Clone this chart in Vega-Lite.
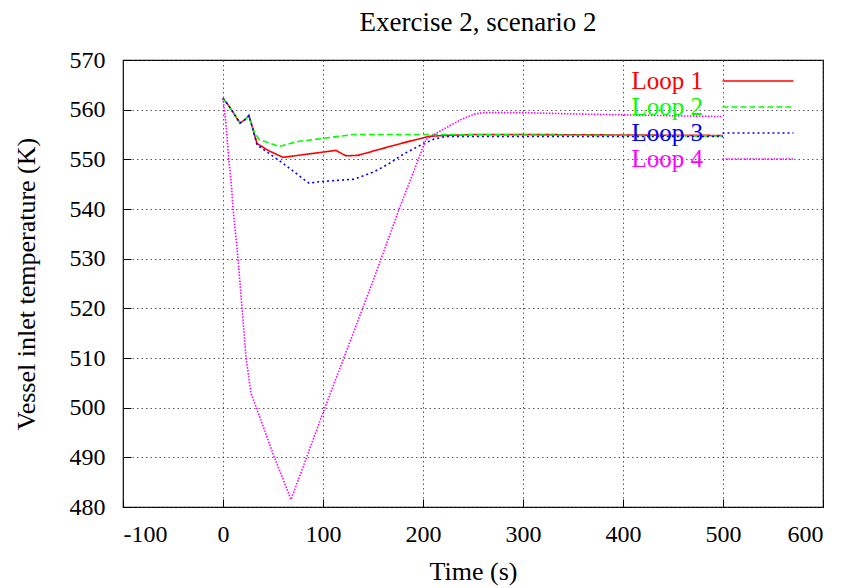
{
  "$schema": "https://vega.github.io/schema/vega-lite/v6.json",
  "width": 700,
  "height": 447,
  "autosize": "none",
  "padding": {"left": 123, "top": 60, "right": 27, "bottom": 81},
  "background": "white",
  "title": {"text": "Exercise 2, scenario 2", "font": "Liberation Serif", "fontSize": 27, "fontWeight": "normal", "color": "black", "offset": 11, "anchor": "middle", "dx": 5},
  "config": {
    "view": {"stroke": "black", "strokeWidth": 1.2},
    "axis": {
      "labelFont": "Liberation Serif", "labelFontSize": 24, "labelColor": "black",
      "titleFont": "Liberation Serif", "titleFontSize": 26, "titleFontWeight": "normal", "titleColor": "black",
      "domain": false, "tickColor": "black", "tickSize": -8, "tickWidth": 1,
      "grid": true, "gridColor": "#333", "gridDash": [1.5, 3], "gridWidth": 1, "gridOpacity": 0.8
    }
  },
  "data": {"values": [
    {"series": "Loop 1", "t": 0, "T": 562.3},
    {"series": "Loop 1", "t": 5, "T": 561},
    {"series": "Loop 1", "t": 10, "T": 559.5},
    {"series": "Loop 1", "t": 17, "T": 557.3},
    {"series": "Loop 1", "t": 22, "T": 558},
    {"series": "Loop 1", "t": 26, "T": 558.8},
    {"series": "Loop 1", "t": 30, "T": 556},
    {"series": "Loop 1", "t": 34, "T": 553.2},
    {"series": "Loop 1", "t": 45, "T": 551.8},
    {"series": "Loop 1", "t": 60, "T": 550.4},
    {"series": "Loop 1", "t": 113, "T": 551.8},
    {"series": "Loop 1", "t": 123, "T": 550.7},
    {"series": "Loop 1", "t": 135, "T": 550.8},
    {"series": "Loop 1", "t": 158, "T": 552.1},
    {"series": "Loop 1", "t": 178, "T": 553.2},
    {"series": "Loop 1", "t": 205, "T": 554.6},
    {"series": "Loop 1", "t": 220, "T": 554.8},
    {"series": "Loop 1", "t": 250, "T": 555},
    {"series": "Loop 1", "t": 300, "T": 555},
    {"series": "Loop 1", "t": 400, "T": 554.9},
    {"series": "Loop 1", "t": 500, "T": 554.8},
    {"series": "Loop 2", "t": 0, "T": 562.3},
    {"series": "Loop 2", "t": 5, "T": 561},
    {"series": "Loop 2", "t": 10, "T": 559.5},
    {"series": "Loop 2", "t": 17, "T": 557.3},
    {"series": "Loop 2", "t": 22, "T": 558},
    {"series": "Loop 2", "t": 26, "T": 558.8},
    {"series": "Loop 2", "t": 30, "T": 556},
    {"series": "Loop 2", "t": 36, "T": 554},
    {"series": "Loop 2", "t": 56, "T": 552.6},
    {"series": "Loop 2", "t": 75, "T": 553.6},
    {"series": "Loop 2", "t": 100, "T": 554.2},
    {"series": "Loop 2", "t": 130, "T": 555},
    {"series": "Loop 2", "t": 200, "T": 555},
    {"series": "Loop 2", "t": 300, "T": 554.9},
    {"series": "Loop 2", "t": 500, "T": 554.7},
    {"series": "Loop 3", "t": 0, "T": 562.3},
    {"series": "Loop 3", "t": 5, "T": 561},
    {"series": "Loop 3", "t": 10, "T": 559.5},
    {"series": "Loop 3", "t": 17, "T": 557.3},
    {"series": "Loop 3", "t": 22, "T": 558},
    {"series": "Loop 3", "t": 26, "T": 558.8},
    {"series": "Loop 3", "t": 30, "T": 556},
    {"series": "Loop 3", "t": 34, "T": 552.9},
    {"series": "Loop 3", "t": 58, "T": 549.5},
    {"series": "Loop 3", "t": 86, "T": 545.2},
    {"series": "Loop 3", "t": 96, "T": 545.5},
    {"series": "Loop 3", "t": 131, "T": 546},
    {"series": "Loop 3", "t": 151, "T": 547.5},
    {"series": "Loop 3", "t": 165, "T": 549},
    {"series": "Loop 3", "t": 180, "T": 551},
    {"series": "Loop 3", "t": 195, "T": 552.6},
    {"series": "Loop 3", "t": 210, "T": 554},
    {"series": "Loop 3", "t": 222, "T": 554.6},
    {"series": "Loop 3", "t": 300, "T": 554.6},
    {"series": "Loop 3", "t": 500, "T": 554.6},
    {"series": "Loop 4", "t": 0, "T": 562.3},
    {"series": "Loop 4", "t": 3, "T": 557},
    {"series": "Loop 4", "t": 6, "T": 549.5},
    {"series": "Loop 4", "t": 8, "T": 545.9},
    {"series": "Loop 4", "t": 10, "T": 540.2},
    {"series": "Loop 4", "t": 15, "T": 530.1},
    {"series": "Loop 4", "t": 19, "T": 520.2},
    {"series": "Loop 4", "t": 23, "T": 510.1},
    {"series": "Loop 4", "t": 28, "T": 502.9},
    {"series": "Loop 4", "t": 33, "T": 500.2},
    {"series": "Loop 4", "t": 51, "T": 490.2},
    {"series": "Loop 4", "t": 68, "T": 481.5},
    {"series": "Loop 4", "t": 84, "T": 490.2},
    {"series": "Loop 4", "t": 98, "T": 497.9},
    {"series": "Loop 4", "t": 150, "T": 525.5},
    {"series": "Loop 4", "t": 176, "T": 539.9},
    {"series": "Loop 4", "t": 203, "T": 554},
    {"series": "Loop 4", "t": 218, "T": 555.8},
    {"series": "Loop 4", "t": 238, "T": 558},
    {"series": "Loop 4", "t": 251, "T": 559.1},
    {"series": "Loop 4", "t": 260, "T": 559.4},
    {"series": "Loop 4", "t": 300, "T": 559.4},
    {"series": "Loop 4", "t": 360, "T": 559.1},
    {"series": "Loop 4", "t": 500, "T": 558.6}
  ]},
  "mark": {"type": "line", "strokeWidth": 1.6},
  "encoding": {
    "x": {"field": "t", "type": "quantitative", "scale": {"domain": [-100, 600], "nice": false},
      "axis": {"values": [-100, 0, 100, 200, 300, 400, 500, 600], "labelExpr": "'' + datum.value", "labelFont": "Liberation Serif", "labelFontSize": 24, "title": "Time (s)", "labelPadding": 23, "titlePadding": 12}},
    "y": {"field": "T", "type": "quantitative", "scale": {"domain": [480, 570], "nice": false, "zero": false},
      "axis": {"values": [480, 490, 500, 510, 520, 530, 540, 550, 560, 570], "labelExpr": "'' + datum.value", "labelFont": "Liberation Serif", "labelFontSize": 24, "title": "Vessel inlet temperature (K)", "labelPadding": 26, "titlePadding": 30}},
    "color": {"field": "series", "type": "nominal",
      "scale": {"domain": ["Loop 1", "Loop 2", "Loop 3", "Loop 4"], "range": ["#ff0000", "#00ff00", "#0000ff", "#ff00ff"]},
      "legend": {"title": null, "orient": "none", "legendX": 622, "legendY": 8, "symbolType": "M-3,0H3", "symbolSize": 560, "symbolStrokeWidth": 1.6,
        "labelFont": "Liberation Serif", "labelFontSize": 25, "labelAlign": "right", "labelOffset": -68, "labelLimit": 0, "rowPadding": 0, "padding": 0,
        "encode": {"labels": {"update": {"fill": {"scale": "color", "field": "value"}}}}}},
    "strokeDash": {"field": "series", "type": "nominal",
      "scale": {"domain": ["Loop 1", "Loop 2", "Loop 3", "Loop 4"], "range": [[1, 0], [6, 3], [2, 3], [1.5, 1.5]]},
      "legend": {"title": null, "orient": "none", "legendX": 622, "legendY": 8, "symbolType": "M-3,0H3", "symbolSize": 560, "symbolStrokeWidth": 1.6,
        "labelFont": "Liberation Serif", "labelFontSize": 25, "labelAlign": "right", "labelOffset": -68, "labelLimit": 0, "rowPadding": 0, "padding": 0,
        "encode": {"labels": {"update": {"fill": {"scale": "color", "field": "value"}}}}}}
  }
}
